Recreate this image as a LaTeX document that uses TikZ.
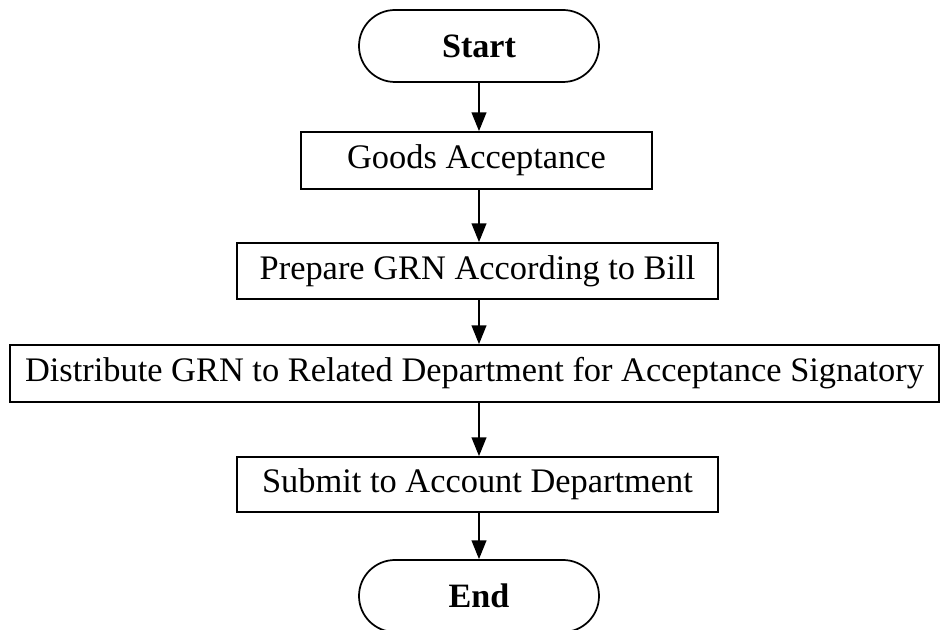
\documentclass[tikz,border=0pt]{standalone}
\usepackage{fontspec}
\setmainfont{Liberation Serif}
\usetikzlibrary{arrows.meta}

\begin{document}
\begin{tikzpicture}[x=0.75pt,y=-0.75pt,
    every node/.style = {font=\fontsize{25.8}{30}\selectfont, line width=1.3pt},
    terminal/.style = {draw, rounded corners=27pt, minimum width=180pt,
                       minimum height=54pt, font=\fontsize{25.6}{30}\selectfont\bfseries},
    process/.style = {draw, inner sep=0pt},
    flow/.style = {-{Triangle[length=14pt,width=11pt]}, line width=1.3pt}]
		\useasboundingbox (0,0) rectangle (940,630);
		\node[terminal] (start) at (479,46) {Start};
		\node[process, minimum width=263.25pt, minimum height=42.75pt] (accept) at (476.5,160.5) {Goods Acceptance};
		\node[process, minimum width=360.75pt, minimum height=42pt] (grn) at (477.5,271) {Prepare GRN According to Bill};
		\node[process, minimum width=696.75pt, minimum height=42.75pt] (distrib) at (474.5,373.5) {Distribute GRN to Related Department for Acceptance Signatory};
		\node[process, minimum width=360.75pt, minimum height=41.25pt] (submit) at (477.5,484.5) {Submit to Account Department};
		\node[terminal] (stop) at (479,596) {End};
		% connectors, all on the axis of Start
		\foreach \a/\b in {start/accept, accept/grn, grn/distrib, distrib/submit, submit/stop}
			\draw[flow] (\a.south -| start.south) -- (\b.north -| start.south);
\end{tikzpicture}
\end{document}
